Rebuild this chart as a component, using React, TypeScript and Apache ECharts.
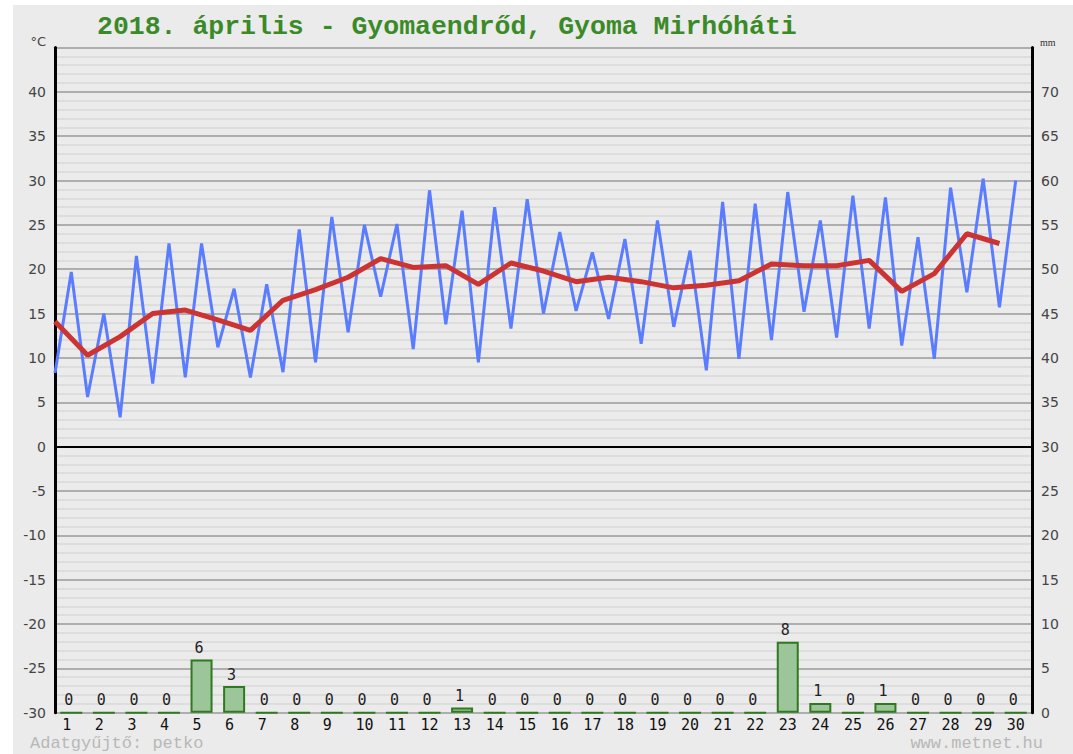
import React, { useEffect, useRef } from "react";
import * as echarts from "echarts";

const days: string[] = Array.from({ length: 30 }, (_, i) => String(i + 1));
// Night minimum (plotted at start of day) and daytime maximum (plotted at mid-day)
const minTemps: number[] = [8.3, 5.6, 3.3, 7.1, 7.8, 11.2, 7.8, 8.4, 9.5, 12.9, 16.9, 11.0, 13.8, 9.5, 13.3, 15.0, 15.3, 14.4, 11.6, 13.5, 8.6, 9.9, 12.0, 15.2, 12.3, 13.3, 11.4, 9.9, 17.4, 15.7];
const maxTemps: number[] = [19.7, 15.0, 21.5, 22.9, 22.9, 17.8, 18.3, 24.5, 25.9, 25.0, 25.1, 28.9, 26.6, 27.0, 27.9, 24.2, 21.9, 23.4, 25.5, 22.1, 27.6, 27.4, 28.7, 25.5, 28.3, 28.1, 23.6, 29.2, 30.2, 30.0];
const meanTemps: number[] = [14.1, 10.3, 12.4, 15.0, 15.4, 14.3, 13.1, 16.5, 17.7, 19.1, 21.2, 20.2, 20.4, 18.3, 20.7, 19.8, 18.6, 19.1, 18.6, 17.9, 18.2, 18.7, 20.6, 20.4, 20.4, 21.0, 17.5, 19.5, 24.0, 22.9];
const precip: number[] = [0, 0, 0, 0, 6.0, 3.0, 0, 0, 0, 0, 0, 0, 0.6, 0, 0, 0, 0, 0, 0, 0, 0, 0, 8.0, 1.1, 0, 1.1, 0, 0, 0, 0];

const titleText = "2018. április - Gyomaendrőd, Gyoma Mirhóháti";
const footerLeft = "Adatgyűjtő: petko";
const footerRight = "www.metnet.hu";

export default function App() {
  const ref = useRef<HTMLDivElement>(null);
  useEffect(() => {
    document.body.style.margin = "0";
    if (!ref.current) return;
    const chart = echarts.init(ref.current, null, { renderer: "svg" });

    const blueData: [number, number][] = [];
    days.forEach((d, i) => {
      const day = Number(d);
      blueData.push([day - 0.5, minTemps[i]]);
      blueData.push([day, maxTemps[i]]);
    });
    const redData: [number, number][] = meanTemps.map((v, i) => [Number(days[i]) - 0.5, v]);

    const yLabel = {
      color: "#444",
      fontFamily: "DejaVu Sans",
      fontSize: 14,
      margin: 9,
      showMaxLabel: false,
    };

    chart.setOption({
      animation: false,
      backgroundColor: "transparent",
      grid: { left: 55, right: 41, top: 47.5, bottom: 41.3, containLabel: false },
      xAxis: [
        {
          type: "category",
          data: days,
          boundaryGap: true,
          axisLine: { show: false },
          axisTick: { show: false },
          splitLine: { show: false },
          axisLabel: {
            interval: 0,
            hideOverlap: false,
            margin: 5,
            formatter: (v: string) => `{a|${v}}`,
            rich: {
              a: {
                width: 18,
                align: "left",
                color: "#111",
                fontFamily: "DejaVu Sans Mono",
                fontSize: 15,
              },
            },
          },
        },
        { type: "value", min: 0.5, max: 30.5, show: false },
      ],
      yAxis: [
        {
          type: "value",
          min: -30,
          max: 45,
          interval: 5,
          position: "left",
          axisLine: { show: true, lineStyle: { color: "#000", width: 3 } },
          axisTick: { show: false },
          axisLabel: yLabel,
          splitLine: { show: true, lineStyle: { color: "#9a9a9a", width: 1.5 } },
          minorTick: { show: false, splitNumber: 5 },
          minorSplitLine: { show: true, lineStyle: { color: "#d9d9d9", width: 1.5 } },
        },
        {
          type: "value",
          min: 0,
          max: 75,
          interval: 5,
          position: "right",
          axisLine: { show: true, lineStyle: { color: "#000", width: 3 } },
          axisTick: { show: false },
          axisLabel: yLabel,
          splitLine: { show: false },
        },
      ],
      graphic: [
        {
          type: "text",
          x: 97,
          y: 27,
          style: {
            text: titleText,
            fill: "#3a8a28",
            font: "bold 26.5px 'Liberation Mono', monospace",
            textVerticalAlign: "middle",
          },
        },
        {
          type: "text",
          x: 46,
          y: 41,
          style: {
            text: "°C",
            fill: "#444",
            font: "13px 'DejaVu Sans'",
            textAlign: "right",
            textVerticalAlign: "middle",
          },
        },
        {
          type: "text",
          x: 1040,
          y: 42,
          style: {
            text: "mm",
            fill: "#333",
            font: "10px 'Liberation Serif'",
            textAlign: "left",
            textVerticalAlign: "middle",
          },
        },
        {
          type: "text",
          x: 30,
          y: 743,
          style: {
            text: footerLeft,
            fill: "#b8b8b8",
            font: "17px 'Liberation Mono', monospace",
            textVerticalAlign: "middle",
          },
        },
        {
          type: "text",
          x: 1043,
          y: 743,
          style: {
            text: footerRight,
            fill: "#b8b8b8",
            font: "17px 'Liberation Mono', monospace",
            textAlign: "right",
            textVerticalAlign: "middle",
          },
        },
      ],
      series: [
        {
          type: "bar",
          xAxisIndex: 0,
          yAxisIndex: 1,
          data: precip,
          barWidth: 22,
          itemStyle: { color: "#9cc59a", borderColor: "#2f7a1f", borderWidth: 2 },
          label: {
            show: true,
            position: "top",
            distance: 4,
            formatter: (p: any) => `{a|${Math.round(p.value)}}`,
            rich: {
              a: {
                width: 14,
                align: "left",
                color: "#222",
                fontFamily: "DejaVu Sans Mono",
                fontSize: 15,
              },
            },
          },
          z: 3,
        },
        {
          type: "line",
          xAxisIndex: 1,
          yAxisIndex: 0,
          data: blueData,
          symbol: "none",
          lineStyle: { color: "#5a7cff", width: 3 },
          z: 4,
          markLine: {
            silent: true,
            symbol: "none",
            label: { show: false },
            lineStyle: { color: "#000", width: 2, type: "solid" },
            data: [{ yAxis: 0 }],
          },
        },
        {
          type: "line",
          xAxisIndex: 1,
          yAxisIndex: 0,
          data: redData,
          symbol: "none",
          lineStyle: { color: "#cc3333", width: 5 },
          z: 5,
        },
      ],
    });
    return () => chart.dispose();
  }, []);

  return (
    <div style={{ position: "relative", width: 1073, height: 754, background: "#fff", overflow: "hidden" }}>
      <div style={{ position: "absolute", left: 13, top: 5, width: 1060, height: 749, background: "#ebebeb" }} />
      <div ref={ref} style={{ position: "absolute", left: 0, top: 0, width: 1073, height: 754 }} />
    </div>
  );
}
